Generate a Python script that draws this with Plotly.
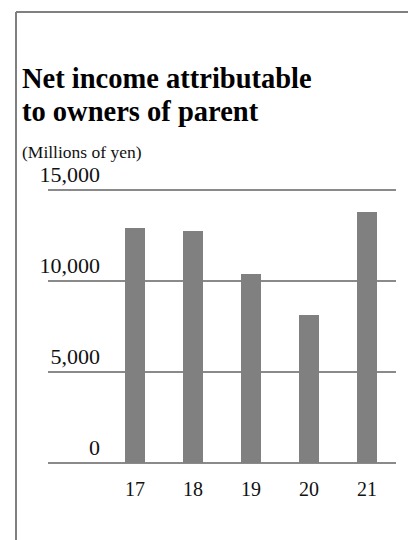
import plotly.graph_objects as go

# Fiscal years and net income attributable to owners of parent (millions of yen)
years = ["17", "18", "19", "20", "21"]
net_income = [12900, 12750, 10350, 8100, 13800]
y_ticks = [0, 5000, 10000, 15000]
y_tick_labels = ["0", "5,000", "10,000", "15,000"]

W, H = 408, 540
SERIF = "Liberation Serif, Times New Roman, serif"
BAR = "#808080"
GRID = "#8a8a8a"

# Plot box in pixels; the value axis gets a little padding so the
# gridlines at 0 and 15,000 are not culled at the range edges.
plot_left, plot_right = 48, 396
y_lo, y_hi = 0, 15000
px_top, px_bottom = 190, 463
pad = 150
ppu = (px_bottom - px_top) / (y_hi - y_lo)
dom_bottom = (H - (px_bottom + pad * ppu)) / H
dom_top = (H - (px_top - pad * ppu)) / H

fig = go.Figure()
fig.add_trace(go.Bar(
    x=list(range(len(years))),
    y=net_income,
    width=0.33,
    marker=dict(color=BAR, line=dict(width=0)),
    hoverinfo="skip",
))

fig.update_layout(
    width=W, height=H,
    margin=dict(l=0, r=0, t=0, b=0, pad=0),
    paper_bgcolor="white", plot_bgcolor="white",
    showlegend=False,
    bargap=0,
    xaxis=dict(
        domain=[plot_left / W, plot_right / W],
        range=[-1.5, len(years) - 0.5],
        tickmode="array",
        tickvals=list(range(len(years))),
        ticktext=years,
        tickfont=dict(family=SERIF, size=20, color="#111"),
        showgrid=False, zeroline=False, showline=False,
        ticks="", ticklabelstandoff=9,
        automargin=False,
        fixedrange=True,
    ),
    yaxis=dict(
        domain=[dom_bottom, dom_top],
        range=[y_lo - pad, y_hi + pad],
        tickmode="array",
        tickvals=y_ticks,
        ticktext=y_tick_labels,
        tickfont=dict(family=SERIF, size=22, color="#111"),
        showgrid=True, gridcolor=GRID, gridwidth=2,
        zeroline=False, showline=False, ticks="",
        anchor="free", position=100 / W,
        ticklabelposition="outside top",
        automargin=False,
        fixedrange=True,
    ),
)

# Frame lines along the top and left of the panel
fig.add_shape(type="line", xref="paper", yref="paper",
              x0=16 / W, x1=1, y0=(H - 12) / H, y1=(H - 12) / H,
              line=dict(color="#808080", width=2))
fig.add_shape(type="line", xref="paper", yref="paper",
              x0=16 / W, x1=16 / W, y0=0, y1=(H - 12) / H,
              line=dict(color="#808080", width=2))

# Title (two lines) and unit caption
title_lines = ["Net income attributable", "to owners of parent"]
title_centers = [79, 111]
for line, cy in zip(title_lines, title_centers):
    fig.add_annotation(text=f"<b>{line}</b>", xref="paper", yref="paper",
                       x=20 / W, y=(H - cy) / H, xanchor="left", yanchor="middle",
                       showarrow=False,
                       font=dict(family=SERIF, size=28.5, color="#000"))
fig.add_annotation(text="(Millions of yen)", xref="paper", yref="paper",
                   x=20 / W, y=(H - 152) / H, xanchor="left", yanchor="middle",
                   showarrow=False, font=dict(family=SERIF, size=17.5, color="#111"))

fig.write_html("out.html", config={"displayModeBar": False})
